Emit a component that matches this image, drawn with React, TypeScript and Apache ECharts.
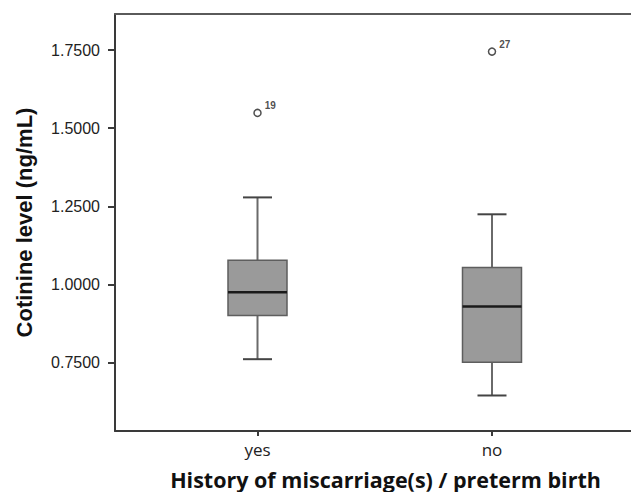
import React, { useEffect, useRef } from "react";
import * as echarts from "echarts";

const categories = ["yes", "no"];
const whiskerLow = [0.762, 0.646];
const quartile1 = [0.902, 0.752];
const medians = [0.976, 0.93];
const quartile3 = [1.078, 1.055];
const whiskerHigh = [1.279, 1.225];
const outlierCategory = [0, 1];
const outlierValues = [1.549, 1.745];
const outlierIds = ["19", "27"];
const yTicks = [0.75, 1.0, 1.25, 1.5, 1.75];

export default function App() {
  const ref = useRef<HTMLDivElement>(null);
  useEffect(() => {
    if (!ref.current) return;
    const chart = echarts.init(ref.current, null, { renderer: "svg" });
    const boxData = categories.map((_, i) => [i, whiskerLow[i], quartile1[i], medians[i], quartile3[i], whiskerHigh[i]]);
    const outData = outlierValues.map((v, i) => ({ value: [outlierCategory[i], v], id: outlierIds[i] }));
    chart.setOption({
      animation: false,
      backgroundColor: "#fff",
      grid: {
        left: 115,
        top: 14,
        width: 518,
        height: 417,
        containLabel: false,
        outerBoundsMode: "none",
        show: false,
      },
      xAxis: [
        {
          type: "value",
          min: -0.6077,
          max: 1.6013,
          splitLine: { show: false },
          axisLine: { show: true, onZero: false, lineStyle: { color: "#3a3a3a", width: 2 } },
          axisTick: { show: true, length: 5, customValues: [0, 1], lineStyle: { color: "#3a3a3a", width: 2 } },
          axisLabel: {
            customValues: [0, 1],
            formatter: (v: number) => categories[Math.round(v)] ?? "",
            fontFamily: "Open Sans",
            fontSize: 17,
            color: "#222",
            margin: 10,
          },
          name: "History of miscarriage(s) / preterm birth",
          nameLocation: "middle",
          nameGap: 37,
          nameTextStyle: {
            fontFamily: "Open Sans",
            fontWeight: "bold",
            fontSize: 21.5,
            color: "#111",
            padding: [0, 0, 0, 23],
          },
        },
        {
          type: "value",
          position: "top",
          min: -0.6077,
          max: 1.6013,
          splitLine: { show: false },
          axisLine: { show: true, onZero: false, lineStyle: { color: "#5a5a5a", width: 2 } },
          axisTick: { show: false },
          axisLabel: { show: false },
        },
      ],
      yAxis: {
        type: "value",
        min: 0.5325,
        max: 1.8651,
        splitLine: { show: false },
        axisLine: { show: true, onZero: false, lineStyle: { color: "#3a3a3a", width: 2 } },
        axisTick: { show: true, length: 7, customValues: yTicks, lineStyle: { color: "#3a3a3a", width: 2 } },
        axisLabel: {
          customValues: yTicks,
          formatter: (v: number) => v.toFixed(4),
          fontFamily: "Liberation Sans",
          fontSize: 16,
          color: "#222",
          margin: 15,
        },
        name: "Cotinine level (ng/mL)",
        nameLocation: "middle",
        nameGap: 80,
        nameTextStyle: {
          fontFamily: "Liberation Sans",
          fontWeight: "bold",
          fontSize: 22,
          color: "#111",
        },
      },
      series: [
        {
          type: "custom",
          data: boxData,
          renderItem: (params: any, api: any) => {
            const x = api.value(0);
            const lo = api.coord([x, api.value(1)]);
            const q1 = api.coord([x, api.value(2)]);
            const md = api.coord([x, api.value(3)]);
            const q3 = api.coord([x, api.value(4)]);
            const hi = api.coord([x, api.value(5)]);
            const cx = lo[0];
            const hw = 29.5;
            const cap = 14.5;
            const lineStyle = { stroke: "#6a6a6a", lineWidth: 2 };
            return {
              type: "group",
              children: [
                { type: "line", shape: { x1: cx, y1: q3[1], x2: cx, y2: hi[1] }, style: lineStyle },
                { type: "line", shape: { x1: cx, y1: q1[1], x2: cx, y2: lo[1] }, style: lineStyle },
                { type: "line", shape: { x1: cx - cap, y1: hi[1], x2: cx + cap, y2: hi[1] }, style: { stroke: "#444", lineWidth: 2 } },
                { type: "line", shape: { x1: cx - cap, y1: lo[1], x2: cx + cap, y2: lo[1] }, style: { stroke: "#444", lineWidth: 2 } },
                {
                  type: "rect",
                  shape: { x: cx - hw, y: q3[1], width: hw * 2, height: q1[1] - q3[1] },
                  style: { fill: "#9a9a9a", stroke: "#5e5e5e", lineWidth: 1.5 },
                },
                { type: "line", shape: { x1: cx - hw, y1: md[1], x2: cx + hw, y2: md[1] }, style: { stroke: "#1a1a1a", lineWidth: 2.5 } },
              ],
            };
          },
        },
        {
          type: "scatter",
          data: outData,
          symbol: "circle",
          symbolSize: 7,
          itemStyle: { color: "#fff", borderColor: "#222", borderWidth: 1.5 },
          label: {
            show: true,
            position: "right",
            offset: [-2, -7],
            formatter: (p: any) => p.data.id,
            fontFamily: "Liberation Sans",
            fontSize: 10,
            fontWeight: "bold",
            color: "#222",
          },
        },
      ],
    });
    return () => chart.dispose();
  }, []);
  return <div ref={ref} style={{ width: 631, height: 492, position: "absolute", left: 0, top: 0 }} />;
}
